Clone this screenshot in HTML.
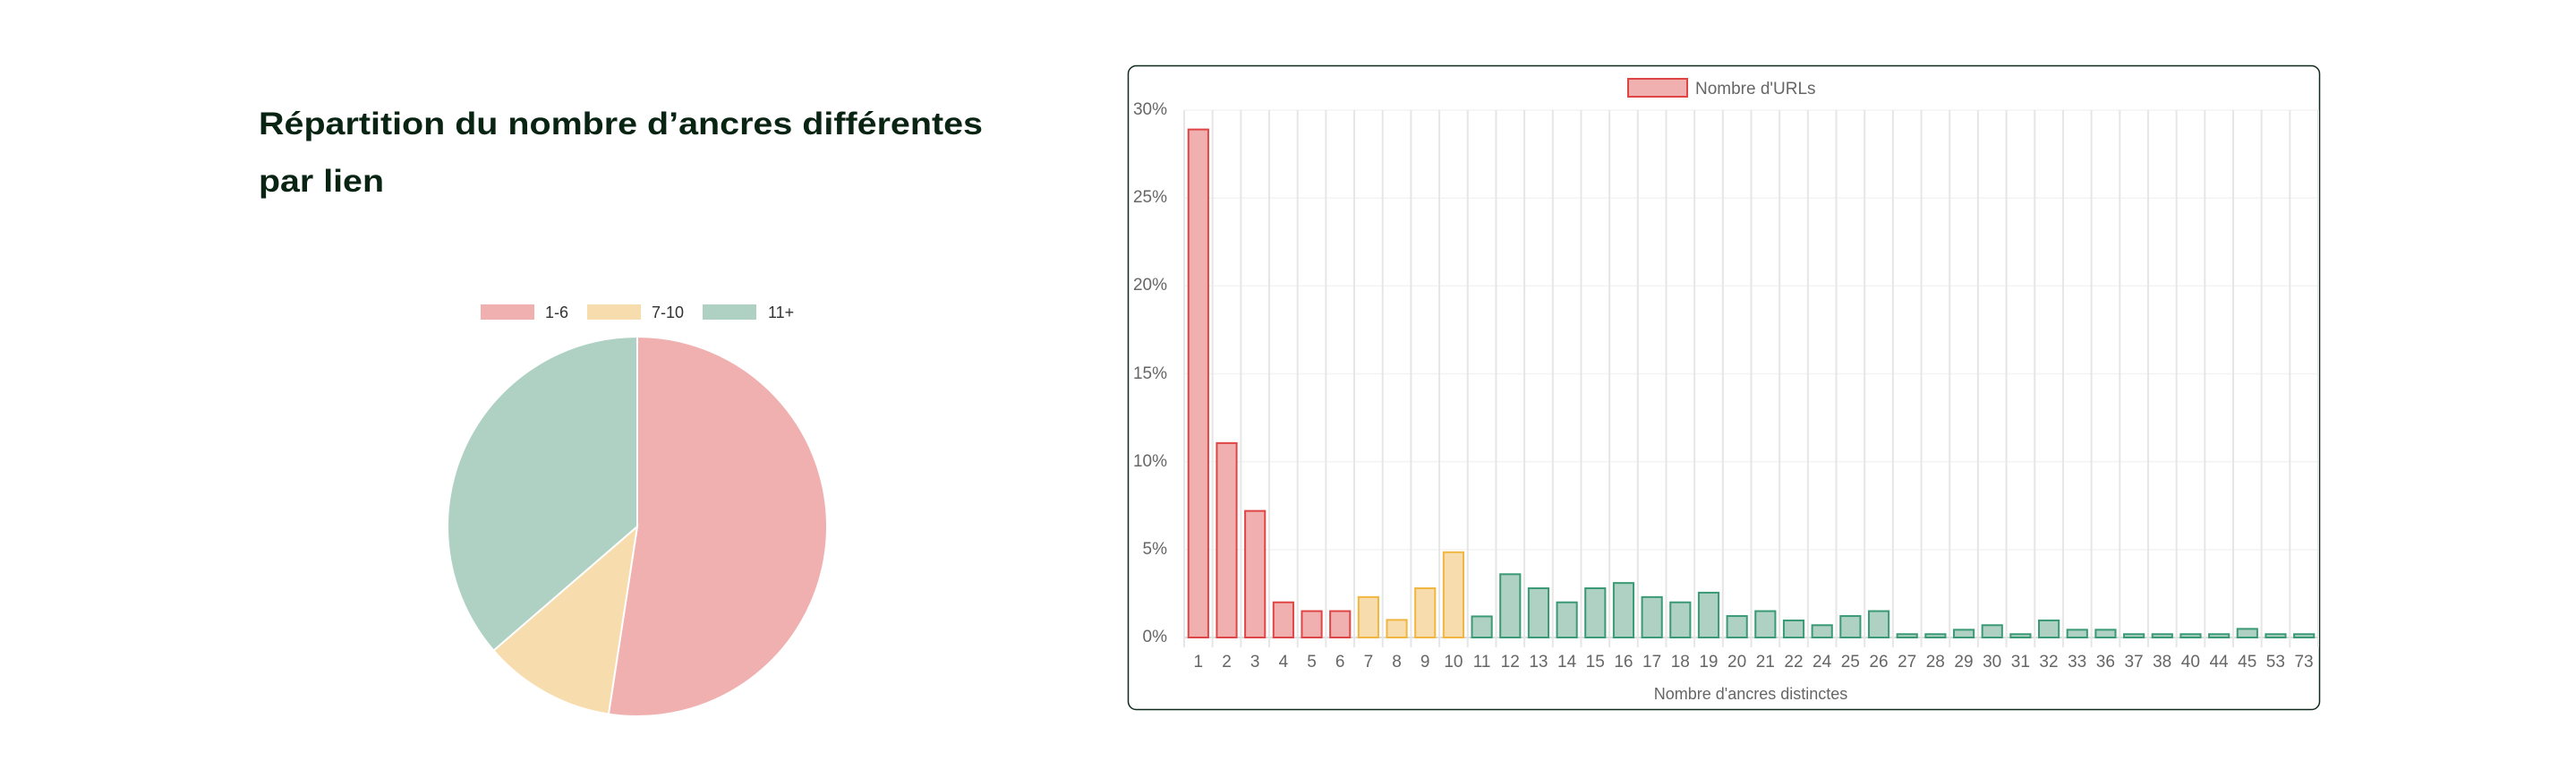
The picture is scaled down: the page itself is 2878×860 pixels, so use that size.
<!DOCTYPE html>
<html><head><meta charset="utf-8"><style>
html,body{margin:0;padding:0;background:#fff;}
body{width:2878px;height:860px;position:relative;overflow:hidden;font-family:"Liberation Sans",sans-serif;}
.xl{position:absolute;left:1323px;top:729px;width:1267px;display:flex;}
.xl span{flex:1;text-align:center;font-size:19px;color:#666;}
.yl{position:absolute;left:1240px;width:64px;text-align:right;font-size:19px;color:#666;line-height:20px;}
</style></head><body>
<svg id="s" width="2878" height="860" style="position:absolute;left:0;top:0">
<text x="289" y="150" font-family="Liberation Sans, sans-serif" font-weight="bold" font-size="35" fill="#0a2414" textLength="809" lengthAdjust="spacingAndGlyphs">Répartition du nombre d’ancres différentes</text>
<text x="289" y="214" font-family="Liberation Sans, sans-serif" font-weight="bold" font-size="35" fill="#0a2414" textLength="140" lengthAdjust="spacingAndGlyphs">par lien</text>
<rect x="537" y="340" width="60" height="17" fill="#f0b0b0"/>
<text x="609" y="355" font-size="18" fill="#333" font-family="Liberation Sans, sans-serif">1-6</text>
<rect x="656" y="340" width="60" height="17" fill="#f7dcad"/>
<text x="728" y="355" font-size="18" fill="#333" font-family="Liberation Sans, sans-serif">7-10</text>
<rect x="785" y="340" width="60" height="17" fill="#aed1c3"/>
<text x="858" y="355" font-size="18" fill="#333" font-family="Liberation Sans, sans-serif">11+</text>
<g id="pie"></g>
<rect x="1260.5" y="73.5" width="1331" height="719" rx="9" fill="none" stroke="#0f2a1c" stroke-width="1.5"/>
<rect x="1819" y="88" width="66" height="20" fill="#f0b0b0" stroke="#e04545" stroke-width="2"/>
<text x="1894" y="105" font-size="19" fill="#666" font-family="Liberation Sans, sans-serif">Nombre d'URLs</text>
<g id="grid"></g><g id="bars"></g>
<text x="1956" y="781" text-anchor="middle" font-size="18" fill="#666" font-family="Liberation Sans, sans-serif">Nombre d'ancres distinctes</text>
</svg>
<div class="yl" style="top:113px">30%</div>
<div class="yl" style="top:211px">25%</div>
<div class="yl" style="top:309px">20%</div>
<div class="yl" style="top:408px">15%</div>
<div class="yl" style="top:506px">10%</div>
<div class="yl" style="top:604px">5%</div>
<div class="yl" style="top:702px">0%</div>
<div class="xl"><span>1</span><span>2</span><span>3</span><span>4</span><span>5</span><span>6</span><span>7</span><span>8</span><span>9</span><span>10</span><span>11</span><span>12</span><span>13</span><span>14</span><span>15</span><span>16</span><span>17</span><span>18</span><span>19</span><span>20</span><span>21</span><span>22</span><span>24</span><span>25</span><span>26</span><span>27</span><span>28</span><span>29</span><span>30</span><span>31</span><span>32</span><span>33</span><span>36</span><span>37</span><span>38</span><span>40</span><span>44</span><span>45</span><span>53</span><span>73</span></div>
<script>
var NS="http://www.w3.org/2000/svg";
function el(p,t,a){var e=document.createElementNS(NS,t);for(var k in a)e.setAttribute(k,a[k]);p.appendChild(e);return e;}
var pie=document.getElementById('pie'),cx=712,cy=588,r=212;
var sl=[[0,188.7,'#f0b0b0'],[188.7,229.2,'#f7dcad'],[229.2,360,'#aed1c3']];
sl.forEach(function(s){var a0=s[0]*Math.PI/180,a1=s[1]*Math.PI/180;
var x0=cx+r*Math.sin(a0),y0=cy-r*Math.cos(a0),x1=cx+r*Math.sin(a1),y1=cy-r*Math.cos(a1);
el(pie,'path',{d:'M'+cx+','+cy+'L'+x0+','+y0+'A'+r+','+r+' 0 '+((s[1]-s[0])>180?1:0)+' 1 '+x1+','+y1+'Z',fill:s[2],stroke:'#fff','stroke-width':2});});
var L=1323,R=2590,T=123,B=712,n=40,w=(R-L)/n,pp=(B-T)/30;
var g=document.getElementById('grid');
for(var k=0;k<=6;k++){var y=T+k*(B-T)/6;el(g,'line',{x1:L,x2:R,y1:y,y2:y,stroke:k==6?'#dcdcdc':'#f3f3f3','stroke-width':k==6?2:1.5});}
for(var i=0;i<=n;i++){var x=L+i*w;el(g,'line',{x1:x,x2:x,y1:T,y2:723,stroke:'#e6e6e6','stroke-width':2});}
var v=[28.9,11.06,7.2,2.0,1.5,1.5,2.3,1.0,2.8,4.85,1.2,3.6,2.8,2.0,2.8,3.1,2.3,2.0,2.55,1.22,1.5,0.97,0.7,1.22,1.5,0.19,0.19,0.44,0.7,0.19,0.97,0.44,0.44,0.19,0.19,0.19,0.19,0.49,0.19,0.19];
var b=document.getElementById('bars');
v.forEach(function(val,i){var f,s;if(i<6){f='#f0b0b0';s='#e04545';}else if(i<10){f='#f7dcad';s='#f0b640';}else{f='#aed1c3';s='#3a9a75';}
var bw=w*0.7,x=L+i*w+(w-bw)/2,h=val*pp;el(b,'rect',{x:x,y:B-h,width:bw,height:h,fill:f,stroke:s,'stroke-width':2});});
</script>
</body></html>
